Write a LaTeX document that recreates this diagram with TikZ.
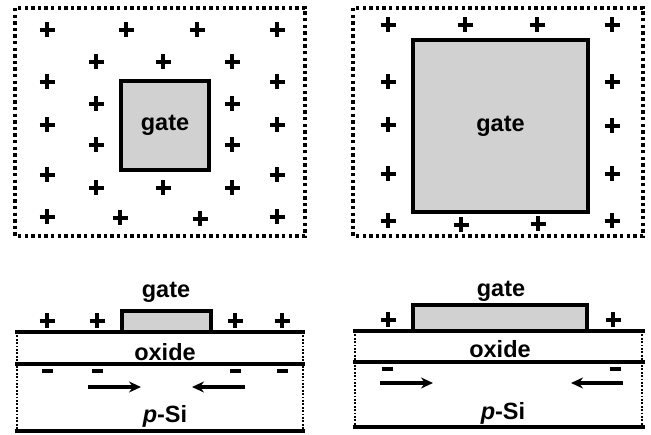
\documentclass[tikz,border=0pt]{standalone}
\usepackage{fontspec}
\setmainfont{Liberation Sans}
\usetikzlibrary{arrows.meta}
\tikzset{
  plussign/.pic={\draw[line width=4pt] (-7.5,0)--(7.5,0) (0,-7.5)--(0,7.5);},
  minussign/.pic={\draw[line width=4pt] (-5.5,0)--(5.5,0);},
  lbl/.style={font=\fontsize{23.5}{26}\selectfont\bfseries, inner sep=0pt},
  bigframe/.style={line width=3.6pt, dash pattern=on 3.4pt off 3.2pt},
  gatebox/.style={draw, line width=3.6pt, fill=black!18, inner sep=0pt, font=\fontsize{23.5}{26}\selectfont\bfseries},
  sgate/.style={draw, line width=3.2pt, fill=black!18, inner sep=0pt},
  layerline/.style={line width=3.4pt},
  midline/.style={line width=3.2pt},
  sideline/.style={line width=1.8pt, dash pattern=on 1.8pt off 1.6pt},
  flow/.style={line width=3.4pt, -{Stealth[length=12pt,width=11pt]}}
}
\begin{document}
\begin{tikzpicture}[x=1pt,y=-1pt]
\useasboundingbox (0,0) rectangle (651,435);
% ---------- top left ----------
\draw[bigframe] (15,8) rectangle (305,236);
\node[gatebox, minimum width=88pt, minimum height=89pt] (g1) at (165,125.5) {gate};
\foreach \x/\y in {47/30,126/30,197/30,277/30,
                   96/62,163/62,232/62,
                   47/82,47/125,47/175,47/217,
                   96/104,96/145,96/188,
                   232/104,232/145,232/188,163/188,
                   277/82,277/125,277/175,277/217,
                   120/218,200/219}
  \pic at (\x,\y) {plussign};
% ---------- top right ----------
\draw[bigframe] (353,8) rectangle (643,236);
\node[gatebox, minimum width=175pt, minimum height=172pt] (g2) at (500.5,126) {gate};
\foreach \x/\y in {388/25,465/25,537/25,612/25,
                   388/82,388/125,388/174,388/221,
                   612/82,612/126,612/174,612/221,
                   461/225,538/224}
  \pic at (\x,\y) {plussign};
% ---------- bottom left ----------
\node[lbl] (gl3) at (166,292) {gate};
\node[sgate, minimum width=89pt, minimum height=21pt] (g3) at (166.5,321.5) {};
\coordinate (a1) at (15,332); \coordinate (a2) at (305,332);
\coordinate (b1) at (15,364); \coordinate (b2) at (305,364);
\coordinate (c1) at (15,431); \coordinate (c2) at (305,431);
\draw[layerline] (a1) -- (a2);
\draw[midline] (b1) -- (b2);
\draw[layerline] (c1) -- (c2);
\draw[sideline] (17,332) -- (17,431);
\draw[sideline] (303,332) -- (303,431);
\node[lbl] (ox1) at (165,352) {oxide};
\node[lbl] (si1) at (165,416) {\textit{p}-Si};
\foreach \x in {47,97,235,282} \pic at (\x,321) {plussign};
\foreach \x in {47,97,235,282} \pic at (\x,371) {minussign};
\coordinate (r1s) at (88,387); \coordinate (r1e) at (141,387);
\coordinate (l1s) at (245,387); \coordinate (l1e) at (192,387);
\draw[flow] (r1s) -- (r1e);
\draw[flow] (l1s) -- (l1e);
% ---------- bottom right ----------
\node[lbl] (gl4) at (501,291) {gate};
\node[sgate, minimum width=174pt, minimum height=26pt] (g4) at (500,318) {};
\coordinate (d1) at (353,331); \coordinate (d2) at (645,331);
\coordinate (e1) at (353,362); \coordinate (e2) at (645,362);
\coordinate (f1) at (353,427); \coordinate (f2) at (645,427);
\draw[layerline] (d1) -- (d2);
\draw[midline] (e1) -- (e2);
\draw[layerline] (f1) -- (f2);
\draw[sideline] (355,331) -- (355,427);
\draw[sideline] (642,331) -- (642,427);
\node[lbl] (ox2) at (500,349) {oxide};
\node[lbl] (si2) at (503,413) {\textit{p}-Si};
\pic at (388,320) {plussign};
\pic at (613,320) {plussign};
\pic at (387,369) {minussign};
\pic at (615,369) {minussign};
\coordinate (r2s) at (380,383); \coordinate (r2e) at (433,383);
\coordinate (l2s) at (623,383); \coordinate (l2e) at (571,383);
\draw[flow] (r2s) -- (r2e);
\draw[flow] (l2s) -- (l2e);
\end{tikzpicture}
\end{document}
